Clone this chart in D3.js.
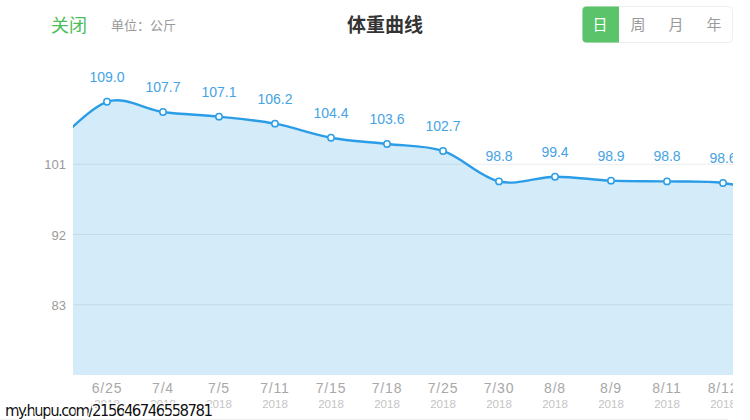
<!DOCTYPE html>
<html><head><meta charset="utf-8">
<script src="https://cdn.jsdelivr.net/npm/d3@7/dist/d3.min.js"></script>
<style>
html,body{margin:0;padding:0;background:#fff;}
svg{display:block;font-family:"Liberation Sans","Noto Sans CJK SC",sans-serif;}
</style></head>
<body>
<svg id="chart" width="750" height="420"></svg>
<script>
// data (first and last entries are the scrolled-off neighbours, clipped)
const dates  = ["", "6/25","7/4","7/5","7/11","7/15","7/18","7/25","7/30","8/8","8/9","8/11","8/12", ""];
const years  = ["", "2018","2018","2018","2018","2018","2018","2018","2018","2018","2018","2018","2018", ""];
const values = [103.0, 109.0,107.7,107.1,106.2,104.4,103.6,102.7,98.8,99.4,98.9,98.8,98.6, 97.0];
const showLabel = [false,true,true,true,true,true,true,true,true,true,true,true,true,false];
const yTicks = [83, 92, 101];
const ranges = ["日","周","月","年"];

(function () {
const svg = d3.select("#chart");
const pLeft = 73, pRight = 733, pTop = 94, pBottom = 375;

const x = d3.scaleLinear().domain([1, 12]).range([107, 723]);
const y = d3.scaleLinear().domain([74, 110]).range([pBottom, pTop]);

// header
svg.append("text").attr("x", 51).attr("y", 32).attr("font-size", 18)
  .attr("font-family", "'Noto Sans CJK SC'").attr("fill", "#4cbd5b").text("关闭");
svg.append("text").attr("x", 111).attr("y", 30).attr("font-size", 13)
  .attr("font-family", "'Noto Sans CJK SC'").attr("fill", "#9a9a9a").text("单位：公斤");
svg.append("text").attr("x", 385).attr("y", 32).attr("text-anchor", "middle").attr("font-size", 19)
  .attr("font-weight", "bold").attr("font-family", "'Noto Sans CJK SC'").attr("fill", "#333").text("体重曲线");

// segmented control
const seg = svg.append("g");
seg.append("rect").attr("x", 582.5).attr("y", 6.5).attr("width", 150).attr("height", 36)
  .attr("rx", 4).attr("fill", "#fff").attr("stroke", "#eeeeee");
seg.append("path").attr("d", "M586.5,6.5 H619 V42.5 H586.5 A4,4 0 0 1 582.5,38.5 V10.5 A4,4 0 0 1 586.5,6.5 Z")
  .attr("fill", "#5bc36a");
const segX = d3.scalePoint().domain(ranges).range([600, 714]);
seg.selectAll("text.seg").data(ranges).join("text")
  .attr("x", d => segX(d)).attr("y", 30).attr("text-anchor", "middle").attr("font-size", 15)
  .attr("font-family", "'Noto Sans CJK SC'")
  .attr("fill", (d, i) => i === 0 ? "#fff" : "#9a9a9a").text(d => d);

// clip
svg.append("defs").append("clipPath").attr("id", "clip")
  .append("rect").attr("x", pLeft).attr("y", 40).attr("width", pRight - pLeft).attr("height", 380);

// grid lines
svg.append("g").selectAll("line").data(yTicks).join("line")
  .attr("x1", pLeft).attr("x2", pRight).attr("y1", d => y(d)).attr("y2", d => y(d))
  .attr("stroke", "#ebebeb").attr("stroke-width", 1);

// y tick labels
svg.append("g").selectAll("text").data(yTicks).join("text")
  .attr("x", 66).attr("y", d => y(d) + 5).attr("text-anchor", "end")
  .attr("font-size", 13).attr("fill", "#9a9a9a").text(d => d);

const g = svg.append("g").attr("clip-path", "url(#clip)");
const pts = values.map((v, i) => ({ v, i }));

const area = d3.area().x(d => x(d.i)).y0(pBottom).y1(d => y(d.v)).curve(d3.curveCardinal);
const line = d3.line().x(d => x(d.i)).y(d => y(d.v)).curve(d3.curveCardinal);

g.append("path").datum(pts).attr("d", area).attr("fill", "#2a9de8").attr("fill-opacity", 0.2);
g.append("path").datum(pts).attr("d", line).attr("fill", "none")
  .attr("stroke", "#2b9de7").attr("stroke-width", 2.4);

g.selectAll("circle").data(pts).join("circle")
  .attr("cx", d => x(d.i)).attr("cy", d => y(d.v)).attr("r", 3.2)
  .attr("fill", "#fff").attr("stroke", "#2b9de7").attr("stroke-width", 1.5);

g.selectAll("text.val").data(pts.filter(d => showLabel[d.i])).join("text")
  .attr("class", "val")
  .attr("x", d => x(d.i)).attr("y", d => y(d.v) - 20).attr("text-anchor", "middle")
  .attr("font-size", 14).attr("fill", "#45a3e6").text(d => d.v.toFixed(1));

// x axis labels
g.selectAll("text.date").data(pts).join("text").attr("class", "date")
  .attr("x", d => x(d.i)).attr("y", 393).attr("text-anchor", "middle")
  .attr("font-size", 14).attr("letter-spacing", 0.8).attr("fill", "#a8a8a8").text(d => dates[d.i]);
g.selectAll("text.year").data(pts).join("text").attr("class", "year")
  .attr("x", d => x(d.i)).attr("y", 408).attr("text-anchor", "middle")
  .attr("font-size", 11.5).attr("fill", "#c4c4c4").text(d => years[d.i]);

// bottom line
svg.append("line").attr("x1", 0).attr("x2", 728).attr("y1", 419.5).attr("y2", 419.5)
  .attr("stroke", "#eeeeee");

// watermark
svg.append("text").attr("x", 5).attr("y", 416).attr("font-size", 15)
  .attr("font-family", "'DejaVu Sans'")
  .attr("fill", "#111").attr("stroke", "#fff").attr("stroke-width", 2.5)
  .attr("paint-order", "stroke").attr("textLength", 208)
  .text("my.hupu.com/215646746558781");
})();
</script>
</body></html>
